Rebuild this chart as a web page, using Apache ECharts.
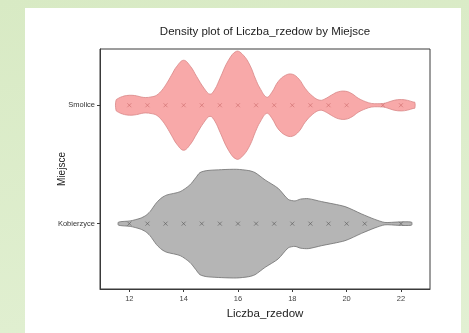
<!DOCTYPE html>
<html>
<head>
<meta charset="utf-8">
<script src="https://cdn.jsdelivr.net/npm/echarts@6/dist/echarts.min.js"></script>
<style>
  html, body { margin:0; padding:0; }
  body { width:469px; height:333px; background: linear-gradient(170deg, #d8eac4 0%, #e2f0d3 100%); position:relative; overflow:hidden; }
  #panel { position:absolute; left:25px; top:8px; width:436px; height:325px; background:#ffffff; }
  #chart { position:absolute; left:0; top:0; width:469px; height:333px; }
</style>
</head>
<body>
<div id="panel"></div>
<div id="chart"></div>
<script>
// Categories (y positions: Kobierzyce = 1, Smolice = 2)
const categories = ["Kobierzyce", "Smolice"];
const titleText = "Density plot of Liczba_rzedow by Miejsce";
const xName = "Liczba_rzedow";
const yName = "Miejsce";
const xTicks = [12, 14, 16, 18, 20, 22];

// Violin outline: x positions and half-widths (in category units)
const smoliceX = [11.51,11.6,11.75,11.9,12.1,12.27,12.45,12.6,12.8,13.0,13.2,13.38,13.55,13.75,14.0,14.25,14.48,14.75,14.97,15.15,15.34,15.65,15.95,16.2,16.44,16.65,16.81,17.06,17.25,17.48,17.75,18.0,18.25,18.47,18.75,19.02,19.25,19.45,19.7,19.97,20.2,20.43,20.7,20.92,21.15,21.35,21.52,21.75,22.02,22.25,22.45,22.51];
const smoliceHW = [0.042,0.059,0.074,0.082,0.084,0.079,0.069,0.065,0.070,0.084,0.127,0.186,0.253,0.329,0.380,0.329,0.242,0.144,0.093,0.135,0.228,0.380,0.456,0.422,0.338,0.220,0.144,0.068,0.110,0.200,0.253,0.262,0.220,0.144,0.076,0.042,0.059,0.087,0.114,0.118,0.097,0.059,0.030,0.015,0.013,0.015,0.025,0.042,0.048,0.041,0.027,0.025];

const kobierzyceX = [11.6,12.03,12.4,12.6,12.76,13.0,13.2,13.38,13.87,14.23,14.45,14.6,14.85,15.4,15.95,16.4,16.63,17.0,17.48,17.85,18.1,18.3,18.59,19.08,19.94,20.55,21.04,21.41,21.9,22.39];
const kobierzyceHW = [0.013,0.023,0.045,0.068,0.101,0.177,0.220,0.242,0.270,0.327,0.389,0.431,0.448,0.456,0.459,0.448,0.431,0.369,0.298,0.205,0.192,0.207,0.211,0.186,0.144,0.082,0.036,0.010,0.014,0.013];

// Point markers along each violin centre
const smoliceMarks = [12,12.667,13.333,14,14.667,15.333,16,16.667,17.333,18,18.667,19.333,20,21.333,22];
const kobierzyceMarks = [12,12.667,13.333,14,14.667,15.333,16,16.667,17.333,18,18.667,19.333,20,20.667,22];

const violins = [
  { name: "Kobierzyce", c: 1, xs: kobierzyceX, hw: kobierzyceHW, fill: "#b5b5b5", stroke: "#707070", smooth: 0.25 },
  { name: "Smolice", c: 2, xs: smoliceX, hw: smoliceHW, fill: "#f8a9a9", stroke: "#d88787", smooth: 0.4 }
];

const chart = echarts.init(document.getElementById('chart'), null, { renderer: 'canvas' });
const fontFam = "'Liberation Sans', Arial, sans-serif";

const option = {
  backgroundColor: 'transparent',
  animation: false,
  graphic: [{
    type: 'text', x: 265, y: 32,
    style: { text: titleText, fontSize: 11.5, fontFamily: fontFam, fill: '#222', align: 'center', verticalAlign: 'middle' }
  }],
  grid: { left: 100, top: 49, right: 39, bottom: 44, show: true, borderColor: '#3a3a3a', borderWidth: 1, backgroundColor: 'transparent' },
  xAxis: {
    type: 'value', min: 10.92, max: 23.07,
    name: xName, nameLocation: 'middle', nameGap: 19, nameMoveOverlap: false,
    nameTextStyle: { fontSize: 11.5, fontFamily: fontFam, color: '#222' },
    axisLine: { show: true, lineStyle: { color: '#3a3a3a' } },
    axisTick: { show: true, length: 3, lineStyle: { color: '#3a3a3a' }, customValues: xTicks },
    axisLabel: { fontSize: 7.5, fontFamily: fontFam, color: '#444', margin: 6, customValues: xTicks },
    splitLine: { show: false }
  },
  yAxis: {
    type: 'value', min: 0.448, max: 2.475,
    name: yName, nameLocation: 'middle', nameGap: 33, nameRotate: 90, nameMoveOverlap: false,
    nameTextStyle: { fontSize: 10, fontFamily: fontFam, color: '#222' },
    axisLine: { show: true, lineStyle: { color: '#3a3a3a' } },
    axisTick: { show: true, length: 3, lineStyle: { color: '#3a3a3a' }, customValues: [1, 2] },
    axisLabel: { fontSize: 7.5, fontFamily: fontFam, color: '#333', margin: 5, customValues: [1, 2],
      formatter: v => categories[Math.round(v) - 1] || '' },
    splitLine: { show: false }
  },
  series: [
    {
      type: 'custom',
      data: violins.map((v, i) => [i]),
      renderItem: function (params, api) {
        const v = violins[api.value(0)];
        const pts = [];
        for (let k = 0; k < v.xs.length; k++) pts.push(api.coord([v.xs[k], v.c + v.hw[k]]));
        for (let k = v.xs.length - 1; k >= 0; k--) pts.push(api.coord([v.xs[k], v.c - v.hw[k]]));
        return {
          type: 'polygon',
          shape: { points: pts, smooth: v.smooth },
          style: { fill: v.fill, stroke: v.stroke, lineWidth: 0.8 }
        };
      },
      z: 2
    },
    {
      type: 'scatter',
      data: smoliceMarks.map(x => [x, 2]),
      symbol: 'path://M0,0L10,10M10,0L0,10',
      symbolSize: 4,
      itemStyle: { color: 'transparent', borderColor: '#cc6b6b', borderWidth: 0.8 },
      z: 3
    },
    {
      type: 'scatter',
      data: kobierzyceMarks.map(x => [x, 1]),
      symbol: 'path://M0,0L10,10M10,0L0,10',
      symbolSize: 4,
      itemStyle: { color: 'transparent', borderColor: '#5a5a5a', borderWidth: 0.8 },
      z: 3
    }
  ]
};
chart.setOption(option);
</script>
</body>
</html>
